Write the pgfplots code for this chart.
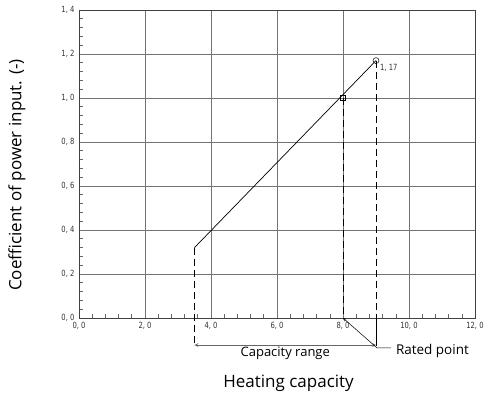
\documentclass[border=0pt]{standalone}
\usepackage{fontspec}
\setmainfont{Open Sans}
\newfontfamily\tickfont[FakeStretch=0.8]{DejaVu Sans}
\usepackage{pgfplots}
\pgfplotsset{compat=1.18}
\begin{document}
\begin{tikzpicture}
\begin{axis}[
  at={(0,0)}, anchor=south west,
  scale only axis, width=396pt, height=308pt,
  xmin=0, xmax=12, ymin=0, ymax=1.4,
  clip=false,
  xtick={0,2,4,6,8,10,12},
  xticklabels={{0, 0},{2, 0},{4, 0},{6, 0},{8, 0},{10, 0},{12, 0}},
  ytick={0,0.2,0.4,0.6,0.8,1.0,1.2,1.4},
  yticklabels={{0, 0},{0, 2},{0, 4},{0, 6},{0, 8},{1, 0},{1, 2},{1, 4}},
  minor x tick num=4, minor y tick num=4,
  xtick pos=bottom, ytick pos=left,
  tick align=inside,
  major tick length=0pt, minor tick length=4pt,
  tick style={black!60, line width=0.6pt},
  grid=major,
  major grid style={black!55, line width=0.75pt},
  axis line style={black!75, line width=0.8pt},
  tick label style={font=\tickfont\fontsize{8.5}{9}\selectfont, black!80},
  xticklabel style={yshift=-1pt},
  yticklabel style={xshift=-1pt},
]
% main line
\addplot[black, line width=0.7pt] coordinates {(3.5,0.32) (9.0,1.17)};
% rated point and max point
\addplot[only marks, mark=square, mark size=2.6pt, black, line width=0.5pt] coordinates {(8.0,1.0)};
\addplot[only marks, mark=o, mark size=3pt, black, line width=0.5pt] coordinates {(9.0,1.17)};
% dashed guides
\addplot[black, line width=0.7pt, dash pattern=on 7pt off 4pt] coordinates {(3.5,0.32) (3.5,-0.125)};
\addplot[black, line width=0.7pt, dash pattern=on 7pt off 4pt] coordinates {(8.0,1.0) (8.0,0)};
\addplot[black, line width=0.7pt, dash pattern=on 7pt off 4pt] coordinates {(9.0,1.17) (9.0,0)};
\addplot[black, line width=0.7pt] coordinates {(9.0,0) (9.0,-0.125)};
% capacity range arrow
\draw[black!60, line width=0.7pt, <->, >=stealth] (axis cs:3.5,-0.123) -- (axis cs:9.0,-0.123);
\node[font=\fontsize{13}{15}\selectfont] at (axis cs:6.25,-0.160) {Capacity range};
% rated point leader
\draw[black, line width=0.5pt, <-, >=stealth] (axis cs:8.0,0) -- (axis cs:9.03,-0.136) -- (axis cs:9.45,-0.136);
\node[anchor=west, font=\fontsize{13.5}{15}\selectfont, inner sep=0pt] at (axis cs:9.6,-0.150) {Rated point};
% value label
\node[anchor=west, font=\tickfont\fontsize{8.5}{9}\selectfont, black!80, inner sep=0pt] at (axis cs:9.12,1.135) {1, 17};
% axis titles
\node[font=\fontsize{17}{19}\selectfont] at (axis cs:6.35,-0.295) {Heating capacity};
\node[font=\fontsize{17}{19}\selectfont, rotate=90] at (axis cs:-1.88,0.65) {Coefficient of power input. (-)};
\end{axis}
\pgfresetboundingbox
\path[use as bounding box] (-79pt,-81pt) rectangle (406pt,318pt);
\end{tikzpicture}
\end{document}
